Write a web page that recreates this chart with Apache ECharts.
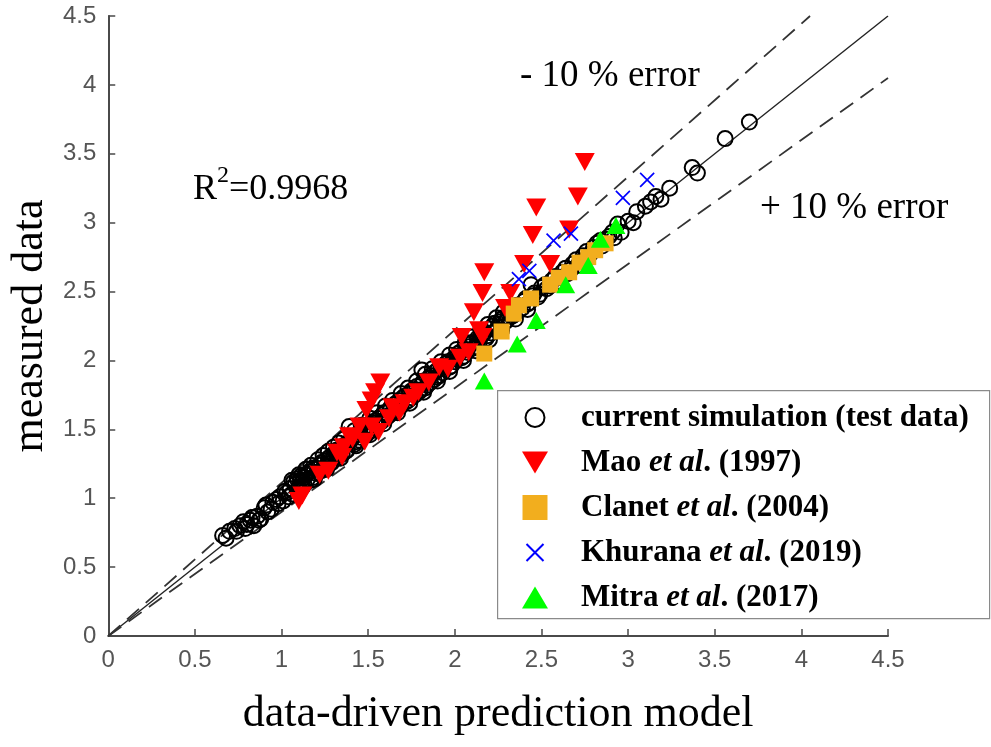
<!DOCTYPE html>
<html><head><meta charset="utf-8">
<script src="https://cdn.jsdelivr.net/npm/echarts@6/dist/echarts.min.js"></script>
<style>html,body{margin:0;padding:0;background:#fff}#c{width:991px;height:747px}</style>
</head><body><div id="c"></div>
<script>
// ---- data ----
const seriesNames = ['current simulation (test data)', 'Mao et al. (1997)', 'Clanet et al. (2004)', 'Khurana et al. (2019)', 'Mitra et al. (2017)'];

const currentSim = [
[0.66,0.73],[0.70,0.76],[0.73,0.78],[0.76,0.80],[0.78,0.83],[0.80,0.81],[0.82,0.84],[0.84,0.80],[0.86,0.87],[0.88,0.85],
[0.90,0.93],[0.92,0.90],[0.95,0.97],[0.97,0.99],[0.99,1.01],[1.01,0.98],[1.03,1.04],[1.05,1.07],[1.06,1.03],[1.08,1.10],
[1.09,1.14],[1.10,1.08],[1.11,1.16],[1.12,1.12],[1.13,1.10],[1.14,1.17],[1.15,1.14],[1.16,1.19],[1.18,1.15],[1.19,1.21],
[1.20,1.18],[1.22,1.24],[1.23,1.20],[1.25,1.27],[1.26,1.23],[1.28,1.30],[1.29,1.26],[1.31,1.33],[1.32,1.29],[1.34,1.36],
[1.35,1.32],[1.37,1.39],[1.38,1.35],[1.39,1.52],[1.40,1.42],[1.42,1.39],[1.44,1.46],[1.45,1.42],[1.47,1.49],[1.49,1.46],
[1.50,1.53],[1.52,1.49],[1.54,1.56],[1.55,1.53],[1.57,1.59],[1.58,1.56],[1.60,1.62],[1.62,1.60],[1.63,1.66],[1.65,1.63],
[1.67,1.69],[1.68,1.66],[1.70,1.73],[1.72,1.70],[1.74,1.76],[1.75,1.73],[1.77,1.79],[1.79,1.77],[1.81,1.93],[1.81,1.83],
[1.83,1.80],[1.85,1.87],[1.86,1.84],[1.88,1.91],[1.90,1.88],[1.92,1.94],[1.93,1.91],[1.95,1.98],[1.97,1.95],[1.99,2.01],
[2.00,1.99],[2.02,2.05],[2.04,2.02],[2.06,2.08],[2.07,2.06],[2.09,2.12],[2.11,2.09],[2.13,2.16],[2.14,2.13],[2.16,2.19],
[2.18,2.16],[2.20,2.23],[2.21,2.20],[2.23,2.27],[2.25,2.24],[2.27,2.30],[2.29,2.28],[2.31,2.34],[2.33,2.32],[2.35,2.38],
[2.37,2.36],[2.40,2.43],[2.42,2.41],[2.44,2.55],[2.45,2.47],[2.48,2.46],[2.50,2.53],[2.53,2.52],[2.56,2.58],[2.59,2.57],
[2.62,2.64],[2.65,2.63],[2.68,2.70],[2.71,2.69],[2.74,2.76],[2.78,2.77],[2.82,2.85],[2.85,2.83],[2.89,2.90],[2.92,2.89],
[2.94,2.99],[2.96,2.93],[3.00,3.01],[3.03,3.00],[3.05,3.08],[3.10,3.12],[3.13,3.15],[3.16,3.19],[3.19,3.17],[3.24,3.25],
[3.37,3.40],[3.40,3.36],[3.56,3.61],[3.70,3.73],
[0.68,0.71],[0.74,0.76],[0.79,0.78],[0.83,0.86],[0.87,0.84],[0.91,0.95],[0.94,0.92],[0.98,0.96],[1.02,1.05],[1.04,1.01],
[1.07,1.12],[1.09,1.06],[1.11,1.13],[1.13,1.15],[1.15,1.18],[1.17,1.13],[1.18,1.22],[1.21,1.19],[1.23,1.26],[1.24,1.22],
[1.27,1.29],[1.28,1.25],[1.30,1.32],[1.32,1.35],[1.33,1.31],[1.36,1.38],[1.37,1.34],[1.39,1.41],[1.41,1.44],[1.43,1.41],
[1.45,1.48],[1.46,1.44],[1.48,1.51],[1.50,1.48],[1.52,1.55],[1.53,1.51],[1.56,1.58],[1.57,1.55],[1.59,1.62],[1.61,1.59],
[1.63,1.65],[1.64,1.62],[1.66,1.69],[1.68,1.71],[1.69,1.67],[1.71,1.74],[1.73,1.71],[1.75,1.78],[1.77,1.75],[1.78,1.81],
[1.80,1.78],[1.82,1.85],[1.84,1.82],[1.86,1.89],[1.88,1.86],[1.90,1.93],[1.91,1.89],[1.94,1.96],[1.96,1.99],[1.98,1.96],
[2.01,2.03],[2.03,2.06],[2.05,2.03],[2.08,2.10],[2.10,2.13],[2.12,2.10],[2.15,2.17],[2.17,2.20],[2.19,2.18],[2.22,2.25],
[2.24,2.22],[2.26,2.28],[2.28,2.31],[2.30,2.29],[2.32,2.36],[2.34,2.33],[2.36,2.40],[2.39,2.38],[2.41,2.45],[2.43,2.42],
[2.46,2.49],[2.49,2.48],[2.52,2.55],[2.55,2.54],[2.58,2.61],[2.61,2.60],[2.64,2.67],[2.67,2.66],[2.70,2.73],[2.73,2.72],
[2.76,2.79],[2.80,2.82],[2.84,2.87],[2.87,2.88],[2.91,2.93],
[1.06,1.13],[1.10,1.17],[1.14,1.21],[1.17,1.24],[1.21,1.28],[1.24,1.31],[1.27,1.34],[1.30,1.37],[1.33,1.40],[1.36,1.43],
[1.42,1.49],[1.46,1.53],[1.51,1.58],[1.55,1.62],[1.60,1.67],[1.64,1.71],[1.69,1.76],[1.73,1.80],[1.78,1.85],[1.83,1.90],
[1.87,1.94],[1.92,1.99],[1.97,2.04],[2.01,2.08],[2.06,2.13],[2.10,2.17],[2.15,2.22],[2.19,2.26],[2.24,2.31],[2.28,2.35],
[1.12,1.08],[1.19,1.14],[1.26,1.21],[1.34,1.29],[1.43,1.38],[1.51,1.46],[1.59,1.54],[1.67,1.62],[1.74,1.69],[1.82,1.77],
[1.90,1.85],[1.97,1.92],[2.05,2.00],[2.12,2.07],[2.20,2.15],[2.27,2.22],[2.35,2.30],[2.42,2.37]
];
const mao = [
[1.10,0.98],[1.12,1.02],[1.22,1.17],[1.27,1.20],[1.32,1.33],[1.35,1.30],[1.36,1.37],[1.39,1.45],[1.41,1.43],[1.45,1.52],
[1.48,1.41],[1.49,1.64],[1.52,1.71],[1.52,1.52],[1.54,1.77],[1.57,1.84],[1.56,1.48],[1.62,1.58],[1.64,1.66],[1.68,1.62],
[1.71,1.69],[1.76,1.73],[1.79,1.77],[1.85,1.84],[1.91,1.95],[1.96,1.94],[2.03,2.02],[2.04,2.17],[2.08,2.06],[2.11,2.35],
[2.14,2.22],[2.16,2.17],[2.16,2.49],[2.17,2.64],[2.29,2.38],[2.32,2.49],[2.40,2.70],[2.45,2.91],[2.47,3.11],[2.55,2.70],
[2.66,2.95],[2.71,3.19],[2.75,3.44]
];
const clanet = [
[2.17,2.05],[2.27,2.21],[2.34,2.34],[2.37,2.40],[2.44,2.45],[2.55,2.55],[2.60,2.60],[2.66,2.64],[2.72,2.71],[2.77,2.75],
[2.81,2.80],[2.87,2.85]
];
const khurana = [[2.37,2.59],[2.43,2.65],[2.57,2.87],[2.67,2.92],[2.97,3.18],[3.11,3.31]];
const mitra = [[2.17,1.85],[2.36,2.12],[2.47,2.29],[2.64,2.55],[2.77,2.69],[2.84,2.88],[2.93,2.98]];

const parityLine = [[0,0],[4.5,4.5]];
const minus10Line = [[0,0],[4.05,4.5]];
const plus10Line = [[0,0],[4.5,4.05]];

const axisMin = 0, axisMax = 4.5, axisStep = 0.5;
const annR2 = ['R', '2', '=0.9968'];
const annMinus = '- 10 % error';
const annPlus = '+ 10 % error';
const xTitle = 'data-driven prediction model';
const yTitle = 'measured data';

// ---- chart ----
const chart = echarts.init(document.getElementById('c'));
const axisGray = '#4a4a4a';
const tickFont = {fontFamily: 'Liberation Sans, Arial', fontSize: 24, color: '#555'};
const serif = 'Liberation Serif, Times New Roman, serif';

function legendFmt(name) {
  const k = name.indexOf(' et al');
  if (k < 0) return '{b|' + name + '}';
  return '{b|' + name.slice(0, k + 1) + '}{i|et al}{b|' + name.slice(k + 6) + '}';
}

const P = 'path://M0,0M26,26';
chart.setOption({
  animation: false,
  backgroundColor: '#fff',
  grid: {left: 105, right: 103, top: 16, bottom: 111},
  xAxis: {
    type: 'value', min: axisMin, max: axisMax, interval: axisStep,
    name: xTitle, nameLocation: 'middle', nameGap: 56,
    nameTextStyle: {fontFamily: serif, fontSize: 44, color: '#000'},
    axisLine: {lineStyle: {color: axisGray, width: 2}},
    axisTick: {inside: true, length: 7, lineStyle: {color: axisGray, width: 1.5}},
    axisLabel: Object.assign({margin: 12}, tickFont),
    splitLine: {show: false}
  },
  yAxis: {
    type: 'value', min: axisMin, max: axisMax, interval: axisStep,
    name: yTitle, nameLocation: 'middle', nameGap: 50,
    nameTextStyle: {fontFamily: serif, fontSize: 44, color: '#000'},
    axisLine: {show: true, lineStyle: {color: axisGray, width: 2}},
    axisTick: {show: true, inside: true, length: 7, lineStyle: {color: axisGray, width: 1.5}},
    axisLabel: Object.assign({margin: 12}, tickFont),
    splitLine: {show: false}
  },
  legend: {
    orient: 'vertical', left: 516, top: 397, z: 20,
    itemWidth: 26, itemHeight: 26, itemGap: 14,
    data: [
      {name: seriesNames[0], icon: P + 'M13,3.5A9.5,9.5 0 1 1 12.99,3.5Z'},
      {name: seriesNames[1], icon: P + 'M0,2L26,2L13,24Z'},
      {name: seriesNames[2], icon: P + 'M0.5,0.5L25.5,0.5L25.5,25.5L0.5,25.5Z'},
      {name: seriesNames[3], icon: P + 'M4.5,4.5L21.5,21.5M21.5,4.5L4.5,21.5'},
      {name: seriesNames[4], icon: P + 'M0,24L26,24L13,2Z'}
    ],
    formatter: legendFmt,
    textStyle: {
      padding: [0, 0, 0, 28],
      rich: {
        b: {fontFamily: serif, fontWeight: 'bold', fontSize: 31, color: '#000', lineHeight: 30},
        i: {fontFamily: serif, fontWeight: 'bold', fontStyle: 'italic', fontSize: 31, color: '#000', lineHeight: 30}
      }
    }
  },
  graphic: [
    {type: 'rect', left: 497, top: 390, z: 10, shape: {width: 492, height: 228},
     style: {fill: '#fff', stroke: '#8a8a8a', lineWidth: 1.2}},
    {type: 'text', left: 193, top: 164, z: 10, style: {
      text: '{a|' + annR2[0] + '}{s|' + annR2[1] + '}{a|' + annR2[2] + '}',
      rich: {
        a: {fontFamily: serif, fontSize: 36, lineHeight: 44, fill: '#000', verticalAlign: 'bottom'},
        s: {fontFamily: serif, fontSize: 24, lineHeight: 24, fill: '#000', verticalAlign: 'top'}
      }}},
    {type: 'text', left: 520, top: 58, style: {text: annMinus, font: '37px ' + serif, fill: '#000'}},
    {type: 'text', left: 760, top: 190, style: {text: annPlus, font: '37px ' + serif, fill: '#000'}}
  ],
  series: [
    {type: 'line', data: parityLine, symbol: 'none', silent: true, z: 1,
     lineStyle: {color: '#222', width: 1.4}},
    {type: 'line', data: minus10Line, symbol: 'none', silent: true, z: 1,
     lineStyle: {color: '#333', width: 1.8, type: [16, 9]}},
    {type: 'line', data: plus10Line, symbol: 'none', silent: true, z: 1,
     lineStyle: {color: '#333', width: 1.8, type: [16, 9]}},
    {name: seriesNames[0], type: 'scatter', data: currentSim, symbol: 'circle', symbolSize: 15, z: 2,
     itemStyle: {color: 'rgba(0,0,0,0)', borderColor: '#000', borderWidth: 2, opacity: 1}},
    {name: seriesNames[1], type: 'scatter', data: mao, symbol: 'path://M0,0L20,0L10,17Z', symbolSize: [20, 18], z: 3,
     itemStyle: {color: '#ff0000', opacity: 1}},
    {name: seriesNames[2], type: 'scatter', data: clanet, symbol: 'rect', symbolSize: 16, z: 4,
     itemStyle: {color: '#f2ae1e', opacity: 1}},
    {name: seriesNames[3], type: 'scatter', data: khurana, symbol: 'path://M0,0L10,10M10,0L0,10', symbolSize: 14, z: 5,
     itemStyle: {color: 'rgba(0,0,0,0)', borderColor: '#0000ff', borderWidth: 1.7, opacity: 1}},
    {name: seriesNames[4], type: 'scatter', data: mitra, symbol: 'triangle', symbolSize: [19, 17], z: 4,
     itemStyle: {color: '#00ff00', opacity: 1}}
  ]
});
</script>
</body></html>
